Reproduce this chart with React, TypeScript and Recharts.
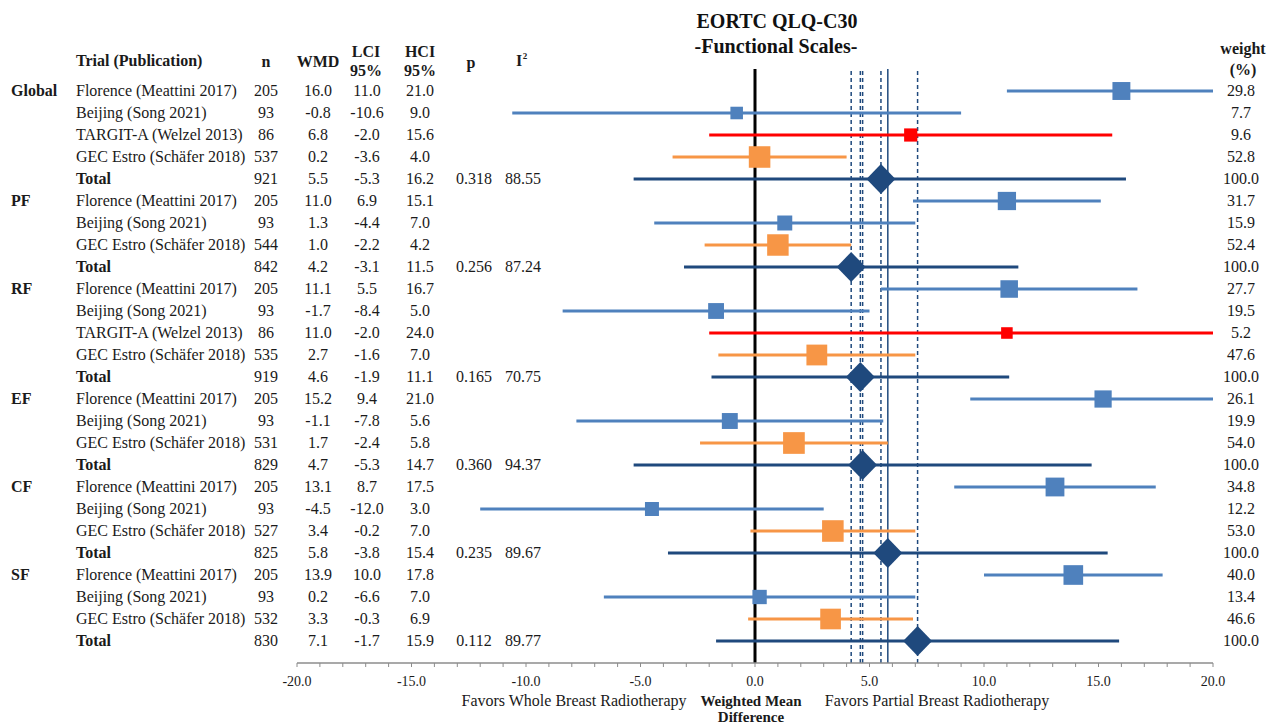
import React from 'react';
import { ComposedChart, Scatter, XAxis, YAxis, ErrorBar, ReferenceLine, Customized } from 'recharts';

const scales = ['Global', 'PF', 'RF', 'EF', 'CF', 'SF'];
const trialNames: Record<string, string> = {
  Florence: 'Florence (Meattini 2017)',
  Beijing: 'Beijing (Song 2021)',
  TARGIT: 'TARGIT-A (Welzel 2013)',
  GEC: 'GEC Estro (Schäfer 2018)',
  Total: 'Total',
};
const scaleTrials = [
  ['Florence', 'Beijing', 'TARGIT', 'GEC', 'Total'],
  ['Florence', 'Beijing', 'GEC', 'Total'],
  ['Florence', 'Beijing', 'TARGIT', 'GEC', 'Total'],
  ['Florence', 'Beijing', 'GEC', 'Total'],
  ['Florence', 'Beijing', 'GEC', 'Total'],
  ['Florence', 'Beijing', 'GEC', 'Total'],
];
const nValues = [
  [205, 93, 86, 537, 921],
  [205, 93, 544, 842],
  [205, 93, 86, 535, 919],
  [205, 93, 531, 829],
  [205, 93, 527, 825],
  [205, 93, 532, 830],
];
const wmdValues = [
  [16.0, -0.8, 6.8, 0.2, 5.5],
  [11.0, 1.3, 1.0, 4.2],
  [11.1, -1.7, 11.0, 2.7, 4.6],
  [15.2, -1.1, 1.7, 4.7],
  [13.1, -4.5, 3.4, 5.8],
  [13.9, 0.2, 3.3, 7.1],
];
const lciValues = [
  [11.0, -10.6, -2.0, -3.6, -5.3],
  [6.9, -4.4, -2.2, -3.1],
  [5.5, -8.4, -2.0, -1.6, -1.9],
  [9.4, -7.8, -2.4, -5.3],
  [8.7, -12.0, -0.2, -3.8],
  [10.0, -6.6, -0.3, -1.7],
];
const hciValues = [
  [21.0, 9.0, 15.6, 4.0, 16.2],
  [15.1, 7.0, 4.2, 11.5],
  [16.7, 5.0, 24.0, 7.0, 11.1],
  [21.0, 5.6, 5.8, 14.7],
  [17.5, 3.0, 7.0, 15.4],
  [17.8, 7.0, 6.9, 15.9],
];
const weightValues = [
  [29.8, 7.7, 9.6, 52.8, 100.0],
  [31.7, 15.9, 52.4, 100.0],
  [27.7, 19.5, 5.2, 47.6, 100.0],
  [26.1, 19.9, 54.0, 100.0],
  [34.8, 12.2, 53.0, 100.0],
  [40.0, 13.4, 46.6, 100.0],
];
const pValues = ['0.318', '0.256', '0.165', '0.360', '0.235', '0.112'];
const i2Values = ['88.55', '87.24', '70.75', '94.37', '89.67', '89.77'];
const solidLineScale = 'CF';
const xTicks = Array.from({ length: 41 }, (_, i) => i - 20);

const colors: Record<string, string> = {
  Florence: '#4F81BD',
  Beijing: '#4F81BD',
  TARGIT: '#FF0000',
  GEC: '#F79646',
  Total: '#1F497D',
};

const rows: any[] = [];
scales.forEach((s, gi) => {
  scaleTrials[gi].forEach((t, ti) => {
    const wmd = wmdValues[gi][ti];
    const lo = Math.max(lciValues[gi][ti], -20);
    const hi = Math.min(hciValues[gi][ti], 20);
    rows.push({
      row: rows.length,
      scale: ti === 0 ? s : '',
      scaleKey: s,
      key: t,
      trial: trialNames[t],
      n: nValues[gi][ti],
      wmd,
      lci: lciValues[gi][ti],
      hci: hciValues[gi][ti],
      weight: weightValues[gi][ti],
      p: t === 'Total' ? pValues[gi] : '',
      i2: t === 'Total' ? i2Values[gi] : '',
      err: [wmd - lo, hi - wmd],
    });
  });
});
const totals = rows.filter((r) => r.key === 'Total');
const series = [
  { name: 'blue', keys: ['Florence', 'Beijing'], color: '#4F81BD' },
  { name: 'red', keys: ['TARGIT'], color: '#FF0000' },
  { name: 'orange', keys: ['GEC'], color: '#F79646' },
  { name: 'total', keys: ['Total'], color: '#1F497D' },
];

const FONT = "'Liberation Serif', serif";

const Marker = (props: any) => {
  const { cx, cy, payload } = props;
  if (cx == null || cy == null) return null;
  const fill = colors[payload.key];
  if (payload.key === 'Total') {
    return <polygon points={`${cx},${cy - 15} ${cx + 14.5},${cy} ${cx},${cy + 15} ${cx - 14.5},${cy}`} fill={fill} />;
  }
  const side = 7 + 2 * Math.sqrt(payload.weight);
  return <rect x={cx - side / 2} y={cy - side / 2} width={side} height={side} fill={fill} />;
};

const RowTick = (props: any) => {
  const { y, payload } = props;
  const r = rows[payload.value];
  if (!r) return null;
  const bold = r.key === 'Total';
  const t = { fontFamily: FONT, fontSize: 16, fill: '#1a1a1a' } as any;
  return (
    <g>
      {r.scale && <text x={11} y={y} dy={5} {...t} fontWeight="bold">{r.scale}</text>}
      <text x={76} y={y} dy={5} {...t} fontWeight={bold ? 'bold' : 'normal'}>{r.trial}</text>
      <text x={266} y={y} dy={5} {...t} textAnchor="middle">{r.n}</text>
      <text x={318} y={y} dy={5} {...t} textAnchor="middle">{r.wmd.toFixed(1)}</text>
      <text x={367} y={y} dy={5} {...t} textAnchor="middle">{r.lci.toFixed(1)}</text>
      <text x={420} y={y} dy={5} {...t} textAnchor="middle">{r.hci.toFixed(1)}</text>
      {r.p && <text x={474} y={y} dy={5} {...t} textAnchor="middle">{r.p}</text>}
      {r.i2 && <text x={523} y={y} dy={5} {...t} textAnchor="middle">{r.i2}</text>}
      <text x={1241} y={y} dy={5} {...t} textAnchor="middle">{r.weight.toFixed(1)}</text>
    </g>
  );
};

const AxisTick = (props: any) => {
  const { x, y, payload } = props;
  const v = payload.value;
  return (
    <g>
      <line x1={x} x2={x} y1={y} y2={y + 4} stroke="#8C8C8C" strokeWidth={1} />
      {v % 5 === 0 && (
        <text x={x} y={y + 23} textAnchor="middle" fontFamily={FONT} fontSize={14} fill="#1a1a1a">
          {v.toFixed(1)}
        </text>
      )}
    </g>
  );
};

const Decor = () => {
  const h = { fontFamily: FONT, fontSize: 16, fontWeight: 'bold', fill: '#1a1a1a' } as any;
  return (
    <g>
      <text x={777} y={28} textAnchor="middle" fontFamily={FONT} fontSize={20} fontWeight="bold" fill="#111">EORTC QLQ-C30</text>
      <text x={776} y={53} textAnchor="middle" fontFamily={FONT} fontSize={20} fontWeight="bold" fill="#111">-Functional Scales-</text>
      <text x={76} y={66} {...h}>Trial (Publication)</text>
      <text x={266} y={67} {...h} textAnchor="middle">n</text>
      <text x={318} y={67} {...h} textAnchor="middle">WMD</text>
      <text x={366} y={57} {...h} textAnchor="middle">LCI</text>
      <text x={366} y={76} {...h} textAnchor="middle">95%</text>
      <text x={420} y={57} {...h} textAnchor="middle">HCI</text>
      <text x={420} y={76} {...h} textAnchor="middle">95%</text>
      <text x={471} y={68} {...h} textAnchor="middle">p</text>
      <text x={519} y={66} {...h} textAnchor="middle">I</text>
      <text x={525} y={59} {...h} fontSize={9} textAnchor="middle">2</text>
      <text x={1243} y={54} {...h} textAnchor="middle">weight</text>
      <text x={1243} y={75} {...h} textAnchor="middle">(%)</text>
      <text x={574} y={706} textAnchor="middle" fontFamily={FONT} fontSize={16} fill="#1a1a1a">Favors Whole Breast Radiotherapy</text>
      <text x={751} y={706} {...h} fontSize={15} textAnchor="middle">Weighted Mean</text>
      <text x={751} y={722} {...h} fontSize={15} textAnchor="middle">Difference</text>
      <text x={937} y={706} textAnchor="middle" fontFamily={FONT} fontSize={16} fill="#1a1a1a">Favors Partial Breast Radiotherapy</text>
    </g>
  );
};

export default function App() {
  return (
    <div style={{ position: 'absolute', left: 0, top: 0, background: '#fff' }}>
      <ComposedChart width={1279} height={727} data={rows} margin={{ top: 69, right: 66, bottom: 0, left: 0 }}>
        <XAxis
          type="number"
          dataKey="wmd"
          domain={[-20, 20]}
          ticks={xTicks}
          interval={0}
          height={64}
          tickLine={false}
          tickSize={0}
          tickMargin={0}
          axisLine={{ stroke: '#8C8C8C', strokeWidth: 1.5 }}
          tick={<AxisTick />}
          allowDataOverflow
        />
        <YAxis
          type="number"
          dataKey="row"
          domain={[-1, 26]}
          reversed
          width={297}
          ticks={rows.map((r) => r.row)}
          interval={0}
          axisLine={false}
          tickLine={false}
          tick={<RowTick />}
        />
        {totals.map((t) => (
          <ReferenceLine
            key={t.row}
            x={t.wmd}
            stroke="#1F497D"
            strokeWidth={1.5}
            strokeDasharray={t.scaleKey === solidLineScale ? undefined : '4 3'}
          />
        ))}
        <ReferenceLine x={0} stroke="#000" strokeWidth={3} />
        {series.map((s) => (
          <Scatter
            key={s.name}
            data={rows.filter((r) => s.keys.includes(r.key))}
            dataKey="wmd"
            fill={s.color}
            shape={<Marker />}
            isAnimationActive={false}
          >
            <ErrorBar dataKey="err" direction="x" width={0} stroke={s.color} strokeWidth={3} />
          </Scatter>
        ))}
        <Customized component={<Decor />} />
      </ComposedChart>
    </div>
  );
}
